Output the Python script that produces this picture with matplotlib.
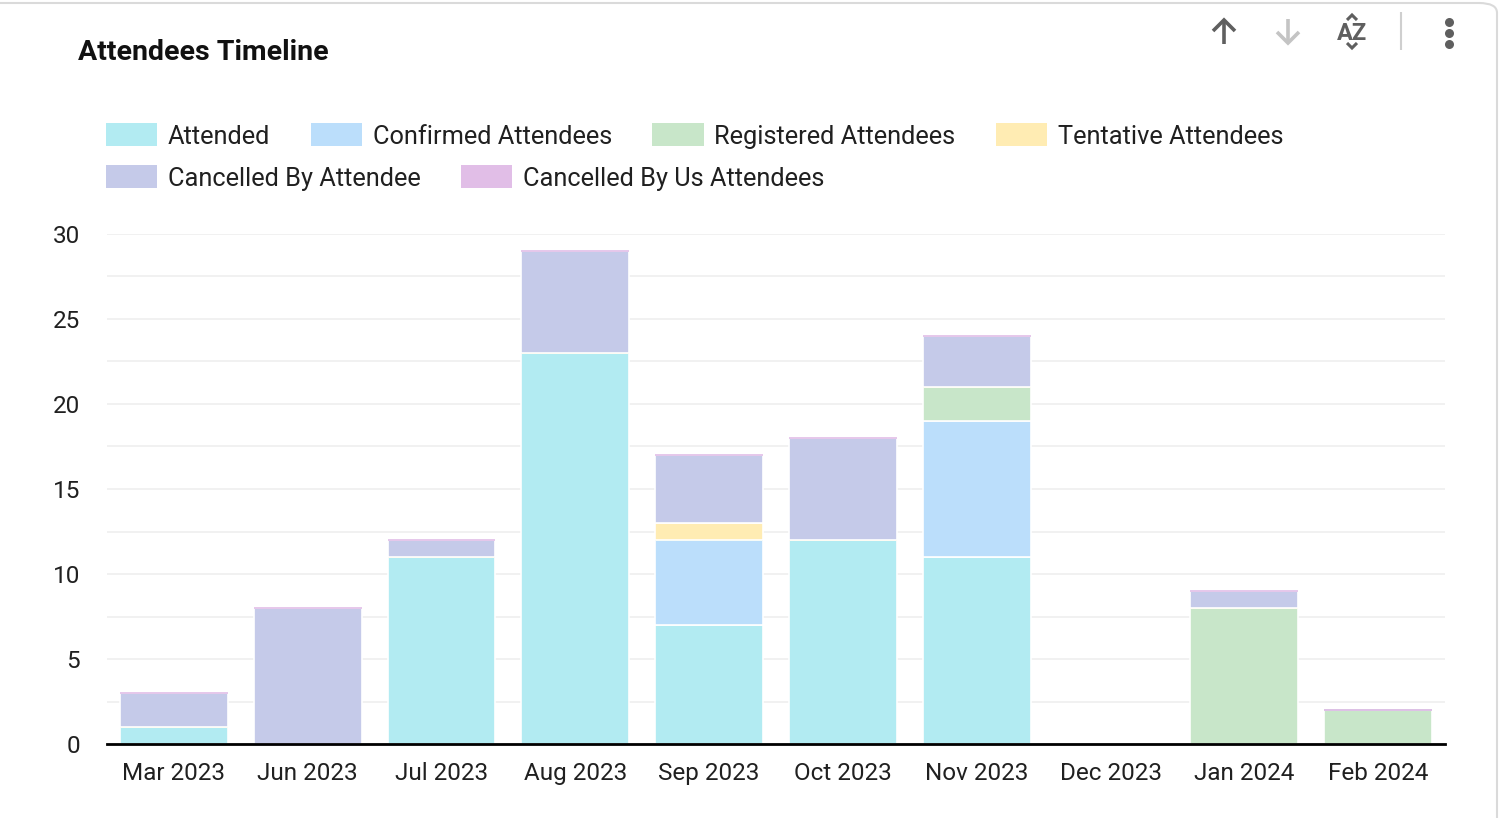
"""Attendees Timeline - stacked bar chart."""
import matplotlib
matplotlib.use('Agg')
import matplotlib.pyplot as plt
from matplotlib.patches import FancyBboxPatch, Patch
from matplotlib.ticker import MultipleLocator
import numpy as np

plt.rcParams['font.family'] = ['Roboto', 'DejaVu Sans']

# Data
months = ['Mar 2023', 'Jun 2023', 'Jul 2023', 'Aug 2023', 'Sep 2023',
          'Oct 2023', 'Nov 2023', 'Dec 2023', 'Jan 2024', 'Feb 2024']
attended = [1, 0, 11, 23, 7, 12, 11, 0, 0, 0]
confirmed = [0, 0, 0, 0, 5, 0, 8, 0, 0, 0]
registered = [0, 0, 0, 0, 0, 0, 2, 0, 8, 2]
tentative = [0, 0, 0, 0, 1, 0, 0, 0, 0, 0]
cancelled_attendee = [2, 8, 1, 6, 4, 6, 3, 0, 1, 0]
cancelled_us = [0, 0, 0, 0, 0, 0, 0, 0, 0, 0]

series = [
    ('Attended', attended, '#b2ebf2'),
    ('Confirmed Attendees', confirmed, '#bbdefb'),
    ('Registered Attendees', registered, '#c8e6c9'),
    ('Tentative Attendees', tentative, '#ffecb3'),
    ('Cancelled By Attendee', cancelled_attendee, '#c5cae9'),
    ('Cancelled By Us Attendees', cancelled_us, '#e1bee7'),
]

W, H = 1506, 818
fig = plt.figure(figsize=(W / 100, H / 100), dpi=100)


def fx(px):
    return px / W


def fy(py):
    return 1 - py / H


# card border
card = FancyBboxPatch((-20 / W, -20 / H), (1497 + 20) / W, (815 + 20) / H,
                      boxstyle='round,pad=0,rounding_size=0.012',
                      transform=fig.transFigure, facecolor='white',
                      edgecolor='#dadada', lw=1.5, zorder=-10)
fig.patches.append(card)

ax = fig.add_axes([fx(107), fy(744), (1445 - 107) / W, (744 - 234) / H])
x = np.arange(len(months))
totals = np.sum([s[1] for s in series], axis=0)
bottom = np.zeros(len(months))
for name, vals, color in series:
    vals = np.array(vals, dtype=float)
    # segmentos vazios aparecem como filete colorido no topo da pilha
    edge = [color if (v == 0 and t > 0) else 'white'
            for v, t in zip(vals, totals)]
    lw = [1.2 if t > 0 else 0 for t in totals]
    ax.bar(x, vals, bottom=bottom, width=0.807, color=color,
           edgecolor=edge, linewidth=lw, zorder=3)
    bottom += vals

ax.set_xlim(-0.5, len(months) - 0.5)
ax.set_ylim(0, 30)
ax.yaxis.set_major_locator(MultipleLocator(5))
ax.yaxis.set_minor_locator(MultipleLocator(2.5))
ax.grid(axis='y', which='both', color='#efefef', lw=1.2, zorder=0)
ax.set_xticks(x)
ax.set_xticklabels(months)
ax.tick_params(axis='both', which='both', length=0, labelsize=17.5,
               colors='#202020')
ax.tick_params(axis='x', pad=13)
ax.tick_params(axis='y', pad=19.5)
for s in ['top', 'right', 'left']:
    ax.spines[s].set_visible(False)
ax.spines['bottom'].set_color('black')
ax.spines['bottom'].set_linewidth(2)
ax.spines['bottom'].set_zorder(5)

# title
fig.text(fx(78), fy(52), 'Attendees Timeline', fontsize=20.5,
         fontweight='bold', va='center', ha='left', color='#111111')

# legend in two flowing rows
handles = [Patch(facecolor=c, edgecolor='none', label=n) for n, _, c in series]
kw = dict(frameon=False, fontsize=18.25, handlelength=2.02, handleheight=1.0,
          handletextpad=0.42, columnspacing=1.6, borderaxespad=0,
          borderpad=0, labelcolor='#202020')
fig.legend(handles=handles[:4], ncol=4, loc='center left',
           bbox_to_anchor=(fx(106), fy(136)), **kw)
fig.legend(handles=handles[4:], ncol=2, loc='center left',
           bbox_to_anchor=(fx(106), fy(178)), **kw)

# toolbar icons
dark, light = '#5f5f5f', '#c4c4c4'


def line(xs, ys, color, lw=2.6):
    fig.add_artist(plt.Line2D([fx(v) for v in xs], [fy(v) for v in ys],
                              transform=fig.transFigure, color=color, lw=lw,
                              solid_capstyle='butt', solid_joinstyle='miter'))


line([1224, 1224], [44, 20], dark)
line([1213, 1224, 1235], [31, 20, 31], dark)
line([1288, 1288], [19, 43], light)
line([1277, 1288, 1299], [32, 43, 32], light)
fig.text(fx(1352), fy(33), 'AZ', fontsize=17, color=dark,
         ha='center', va='center', fontweight='bold')
line([1347, 1352, 1357], [20, 15, 20], dark, lw=2.2)
line([1347, 1352, 1357], [43, 48, 43], dark, lw=2.2)
line([1401, 1401], [12, 50], '#cfcfcf', lw=1.5)
fig.add_artist(plt.Line2D([fx(1449)] * 3, [fy(22), fy(33), fy(44)],
                          transform=fig.transFigure, ls='none', marker='o',
                          ms=6.5, color=dark, mec='none'))

fig.savefig('out.png', dpi=100, facecolor='white')
